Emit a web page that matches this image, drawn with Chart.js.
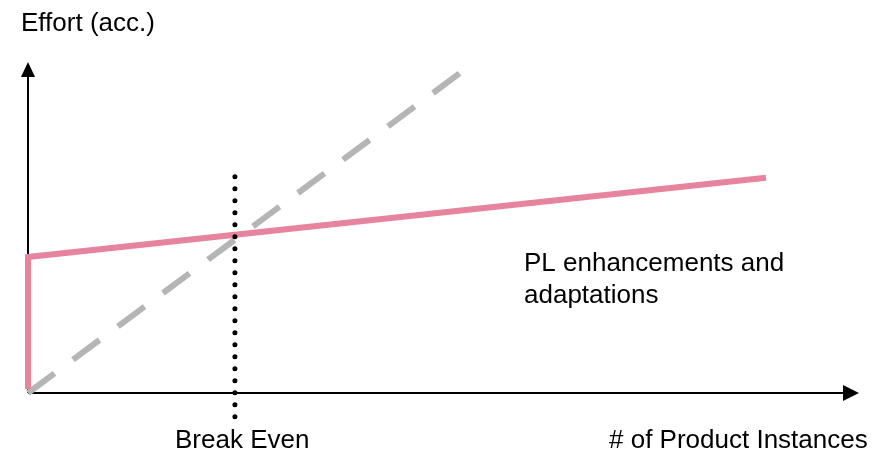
<!DOCTYPE html>
<html>
<head>
<meta charset="utf-8">
<script src="https://cdn.jsdelivr.net/npm/chart.js@4/dist/chart.umd.min.js"></script>
<style>
  html,body{margin:0;padding:0;background:#fff;}
  #c{display:block;}
</style>
</head>
<body>
<canvas id="c" width="886" height="452"></canvas>
<script>
// valeurs (échelle 0..100 sur les deux axes)
const plX = [0, 0, 88.8]
const plY = [1.2, 41.1, 65.0]
const reuseX = [0, 52.0]
const reuseY = [0, 96.7]
const breakEvenX = [24.9, 24.9]
const breakEvenY = [65.3, -8.6]

const yLabel = "Effort (acc.)"
const xLabel = "# of Product Instances"
const breakLabel = "Break Even"
const plLabel = ["PL enhancements and", "adaptations"]

function pts(xs, ys){
    const out = []
    for(let i=0;i<xs.length;i++) out.push({x:xs[i], y:ys[i]})
    return out
}

const police = "26px 'Liberation Sans', Arial, sans-serif"

// axes avec flèches + textes
const decor = {
    id: "decor",
    beforeDatasetsDraw(chart){
        const ctx = chart.ctx
        const sx = chart.scales.x, sy = chart.scales.y
        const x0 = sx.getPixelForValue(0), y0 = sy.getPixelForValue(0)
        const xEnd = sx.getPixelForValue(100), yEnd = sy.getPixelForValue(100)
        ctx.save()
        ctx.strokeStyle = "#000"
        ctx.fillStyle = "#000"
        ctx.lineWidth = 2
        ctx.beginPath()
        ctx.moveTo(x0, y0)
        ctx.lineTo(x0, yEnd + 14)
        ctx.moveTo(x0, y0)
        ctx.lineTo(xEnd - 14, y0)
        ctx.stroke()
        // pointe verticale
        ctx.beginPath()
        ctx.moveTo(x0, yEnd)
        ctx.lineTo(x0 - 7, yEnd + 15)
        ctx.lineTo(x0 + 7, yEnd + 15)
        ctx.closePath()
        ctx.fill()
        // pointe horizontale
        ctx.beginPath()
        ctx.moveTo(xEnd, y0)
        ctx.lineTo(xEnd - 16, y0 - 8)
        ctx.lineTo(xEnd - 16, y0 + 8)
        ctx.closePath()
        ctx.fill()
        ctx.restore()
    },
    afterDraw(chart){
        const ctx = chart.ctx
        ctx.save()
        ctx.fillStyle = "#000"
        ctx.font = police
        ctx.textBaseline = "alphabetic"
        ctx.textAlign = "left"
        ctx.fillText(yLabel, 21, 31)
        ctx.fillText(breakLabel, 175, 448)
        ctx.fillText(xLabel, 609, 448)
        ctx.fillText(plLabel[0], 524, 271)
        ctx.fillText(plLabel[1], 524, 303)
        ctx.restore()
    }
}

new Chart(document.querySelector("#c"), {
    type: "scatter",
    data: {
        datasets: [
            {
                label: breakLabel,
                data: pts(breakEvenX, breakEvenY),
                showLine: true,
                borderColor: "#000",
                borderWidth: 5,
                borderDash: [0, 12],
                borderCapStyle: "round",
                pointRadius: 0,
                clip: false
            },
            {
                label: plLabel.join(" "),
                data: pts(plX, plY),
                showLine: true,
                borderColor: "#E6849E",
                borderWidth: 6,
                borderJoinStyle: "miter",
                pointRadius: 0,
                clip: false
            },
            {
                label: "reuse",
                data: pts(reuseX, reuseY),
                showLine: true,
                borderColor: "#B5B5B5",
                borderWidth: 6,
                borderDash: [33, 23],
                pointRadius: 0,
                clip: false
            }
        ]
    },
    options: {
        responsive: false,
        animation: false,
        layout: { padding: { left: 28, right: 27, top: 62, bottom: 59 } },
        scales: {
            x: { type: "linear", min: 0, max: 100, display: false },
            y: { type: "linear", min: 0, max: 100, display: false }
        },
        plugins: {
            legend: { display: false },
            tooltip: { enabled: false },
            title: { display: false }
        }
    },
    plugins: [decor]
})
</script>
</body>
</html>
